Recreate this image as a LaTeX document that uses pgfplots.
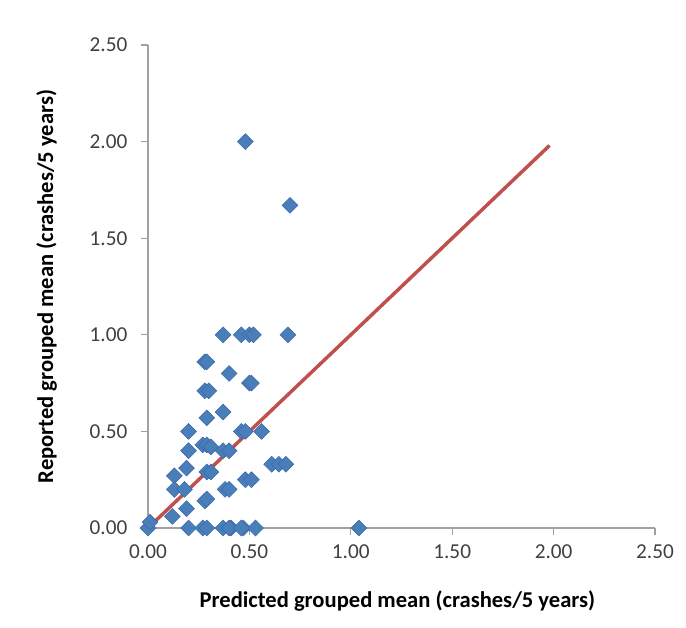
\documentclass[border=0pt]{standalone}
\usepackage{pgfplots}
\pgfplotsset{compat=1.18}
\usepackage{fontspec}
\setmainfont{Carlito}
\definecolor{xlblue}{RGB}{74,126,187}
\definecolor{xledge}{RGB}{60,105,165}
\definecolor{xlred}{RGB}{192,80,77}
\definecolor{axgray}{RGB}{160,160,160}
\definecolor{lblgray}{RGB}{64,64,64}
\begin{document}
\begin{tikzpicture}[x=0.75bp,y=0.75bp]
\path[use as bounding box] (-148,-100) rectangle (538,528);
\begin{axis}[
  at={(0,0)}, anchor=south west,
  scale only axis,
  width=380.25bp, height=362.25bp,
  xmin=0, xmax=2.5, ymin=0, ymax=2.5,
  xtick={0,0.5,1,1.5,2,2.5},
  ytick={0,0.5,1,1.5,2,2.5},
  axis x line*=bottom, axis y line*=left,
  axis line style={axgray, line width=1bp, -},
  tick style={axgray, line width=1bp},
  tick align=outside,
  major tick length=5bp,
  clip=false,
  /pgf/number format/assume math mode=true,
  /pgf/number format/.cd, fixed, fixed zerofill, precision=2, /pgfplots/.cd,
  ticklabel style={font=\fontsize{16}{18}\selectfont, text=lblgray},
  xticklabel style={yshift=-4bp},
  yticklabel style={xshift=-7bp},
  xlabel={\textbf{Predicted grouped mean (crashes/5 years)}},
  ylabel={\textbf{Reported grouped mean (crashes/5 years)}},
  label style={font=\fontsize{17}{20}\selectfont},
  xlabel style={at={(axis description cs:0.492,0)}, anchor=center, yshift=-55bp},
  ylabel style={at={(axis description cs:0,0.5)}, anchor=center, yshift=76bp},
]
\addplot[xlred, line width=2.6bp, no marks] coordinates {(0.01,0.01) (1.98,1.98)};
\addplot[only marks, mark=square*, mark size=4.2bp,
  mark options={rotate=45, fill=xlblue, draw=xledge, line width=0.4bp}]
coordinates {
(0.00,0.00) (0.01,0.03) (0.12,0.06) (0.13,0.27) (0.19,0.31) (0.13,0.20)
(0.18,0.20) (0.19,0.10) (0.20,0.00) (0.20,0.40) (0.20,0.50) (0.27,0.43)
(0.29,0.43) (0.31,0.42) (0.37,0.40) (0.40,0.40) (0.28,0.14) (0.29,0.15)
(0.29,0.29) (0.31,0.29) (0.38,0.20) (0.40,0.20) (0.27,0.00) (0.29,0.00)
(0.37,0.00) (0.41,0.00) (0.47,0.00) (0.53,0.00) (0.40,0.00) (0.46,0.00)
(1.04,0.00) (0.29,0.57) (0.37,0.60) (0.28,0.71) (0.30,0.71) (0.28,0.86)
(0.29,0.86) (0.40,0.80) (0.50,0.75) (0.51,0.75) (0.37,1.00) (0.46,1.00)
(0.50,1.00) (0.52,1.00) (0.69,1.00) (0.48,2.00) (0.70,1.67) (0.46,0.50)
(0.48,0.50) (0.56,0.50) (0.61,0.33) (0.645,0.33) (0.68,0.33) (0.48,0.25)
(0.51,0.25)
};
\end{axis}
\end{tikzpicture}
\end{document}
